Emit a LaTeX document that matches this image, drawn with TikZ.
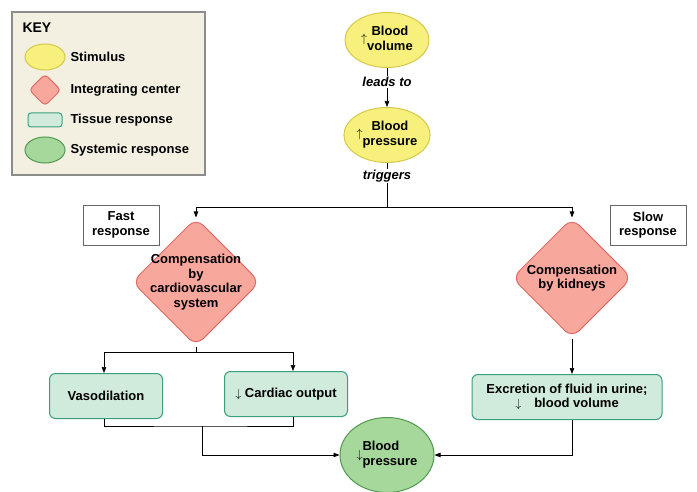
\documentclass[tikz,border=0pt]{standalone}
\usepackage{fontspec}
\setmainfont{Liberation Sans}
\usetikzlibrary{shapes.geometric,arrows.meta,positioning}
\definecolor{stimfill}{HTML}{F7F07C}
\definecolor{stimdraw}{HTML}{D6C84A}
\definecolor{intfill}{HTML}{F8A79D}
\definecolor{intdraw}{HTML}{DE6B68}
\definecolor{tisfill}{HTML}{D0EBDC}
\definecolor{tisdraw}{HTML}{3B9E7C}
\definecolor{sysfill}{HTML}{A6D89B}
\definecolor{sysdraw}{HTML}{4F9A50}
\definecolor{keyfill}{HTML}{F3F0E2}
\tikzset{
	stimnode/.style={ellipse, draw=stimdraw, fill=stimfill, line width=1pt, minimum width=84pt, minimum height=55pt, inner sep=0pt, font=\bfseries, align=center},
	intnode/.style={diamond, aspect=1, draw=intdraw, fill=intfill, line width=1pt, rounded corners=10pt, inner sep=0pt},
	tisnode/.style={rectangle, rounded corners=6pt, draw=tisdraw, fill=tisfill, line width=1pt, font=\bfseries, align=center},
	sysnode/.style={ellipse, draw=sysdraw, fill=sysfill, line width=1pt, minimum width=94pt, minimum height=75pt, inner sep=0pt, font=\bfseries, align=center},
	tagnode/.style={rectangle, draw=black!60, fill=white, minimum width=76pt, minimum height=40pt, font=\bfseries, align=center, inner sep=1pt},
	keytext/.style={anchor=west, font=\bfseries},
	arr/.style={-{Triangle[length=6pt,width=4.5pt]}, line width=0.6pt},
	ln/.style={line width=0.6pt}
}
\begin{document}
\fontsize{13}{14.5}\selectfont
\begin{tikzpicture}[x=1pt,y=-1pt]
\useasboundingbox (0,0) rectangle (697,492);
% key
\node[rectangle, draw=black!45, fill=keyfill, line width=2pt, minimum width=193pt, minimum height=163pt] (key) at (108.5,93.5) {};
\node[anchor=west, font=\fontsize{14}{15}\selectfont\bfseries] (keytitle) at (18,28) {KEY};
\node[ellipse, draw=stimdraw, fill=stimfill, line width=1pt, minimum width=40pt, minimum height=26pt] (kstim) at (45,57) {};
\node[diamond, aspect=1, draw=intdraw, fill=intfill, line width=1pt, rounded corners=4pt, minimum size=32pt] (kint) at (45,90) {};
\node[rectangle, rounded corners=3pt, draw=tisdraw, fill=tisfill, line width=1pt, minimum width=34pt, minimum height=14pt] (ktis) at (45,120) {};
\node[ellipse, draw=sysdraw, fill=sysfill, line width=1pt, minimum width=40pt, minimum height=26pt] (ksys) at (45,150) {};
\node[keytext] at (66,57) {Stimulus};
\node[keytext] at (66,90) {Integrating center};
\node[keytext] at (66,120) {Tissue response};
\node[keytext] at (66,150) {Systemic response};
% main chain
\node[stimnode] (bv) at (387,40) {$\uparrow$\begin{tabular}{@{}c@{}}Blood\\volume\end{tabular}};
\node[stimnode] (bp) at (387,135) {$\uparrow$\begin{tabular}{@{}c@{}}Blood\\pressure\end{tabular}};
\node[font=\bfseries\itshape, fill=white, inner sep=1pt] (leads) at (387,82) {leads to};
\node[font=\bfseries\itshape, fill=white, inner sep=1pt] (trig) at (387,176) {triggers};
\draw[ln] (bv) -- (leads);
\draw[arr] (leads) -- (bp);
\coordinate (split) at (387,207);
\draw[ln] (bp) -- (trig) -- (split);
% integrating centers
\node[intnode, minimum size=128pt, label={[font=\bfseries, align=center]center:Compensation\\by\\cardiovascular\\system}] (cv) at (196,282) {};
\node[intnode, minimum size=120pt, label={[font=\bfseries, align=center]center:Compensation\\by kidneys}] (kid) at (572,278) {};
\node[tagnode] (fast) at (121,225) {Fast\\response};
\node[tagnode] (slow) at (648,225) {Slow\\response};
\draw[arr] (split) -| (cv.north);
\draw[arr] (split) -| (kid.north);
% tissue responses
\node[tisnode, minimum width=113pt, minimum height=45pt] (vaso) at (106,396) {Vasodilation};
\node[tisnode, minimum width=123pt, minimum height=45pt] (card) at (286,394) {$\downarrow$ Cardiac output};
\node[tisnode, minimum width=190pt, minimum height=45pt] (excr) at (567,397) {Excretion of fluid in urine;\\$\downarrow$\quad blood volume};
\coordinate (cvsplit) at (196,352);
\draw[ln] (cv.south) -- (cvsplit);
\draw[arr] (cvsplit) -| ([xshift=-2pt]vaso.north);
\draw[arr] (cvsplit) -| ([xshift=7pt]card.north);
\draw[arr] (kid.south) -- (kid.south |- excr.north);
% systemic response
\node[sysnode] (low) at (387,455) {$\downarrow$\begin{tabular}{@{}l@{}}Blood\\pressure\end{tabular}};
\coordinate (join) at (202,426);
\draw[ln] ([xshift=-2pt]vaso.south) |- (join) -| ([xshift=7pt]card.south);
\draw[arr] (join) |- (low.west);
\draw[arr] ([xshift=5pt]excr.south) |- (low.east);
\end{tikzpicture}
\end{document}
